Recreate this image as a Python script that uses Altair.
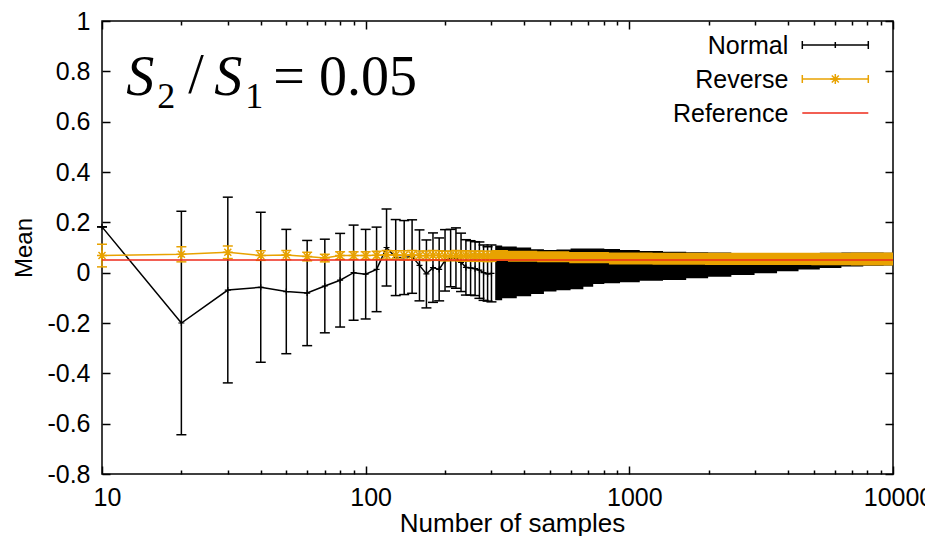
import altair as alt
import pandas as pd

# ---------------- data ----------------
# Normal: individually resolved error bars (every 10 samples)
normal_n = [10, 20, 30, 40, 50, 60, 70, 80, 90, 100, 110, 120, 130, 140, 150,
            160, 170, 180, 190, 200, 210, 220, 230, 240, 250, 260, 270, 280, 290, 300]
normal_mean = [0.182, -0.200, -0.069, -0.058, -0.075, -0.081, -0.053, -0.030, 0.000, -0.006,
               0.013, 0.100, 0.060, 0.060, 0.064, 0.029, -0.005, 0.020, 0.013, 0.049,
               0.058, 0.058, 0.041, 0.021, 0.019, 0.016, 0.010, 0.000, -0.005, -0.003]
normal_err = [0.000, 0.444, 0.369, 0.298, 0.247, 0.209, 0.186, 0.186, 0.189, 0.178,
              0.168, 0.153, 0.151, 0.147, 0.146, 0.141, 0.135, 0.138, 0.125, 0.122,
              0.114, 0.120, 0.116, 0.110, 0.108, 0.107, 0.112, 0.110, 0.108, 0.113]

# Normal: dense region (overlapping error bars form a band)
normal_band_n = [310, 350, 400, 450, 500, 560, 640, 700, 760, 850, 1000, 1200, 1500,
                 1800, 2200, 2700, 3300, 4000, 4800, 5800, 7000, 8500, 10000]
normal_band_lo = [-0.110, -0.102, -0.094, -0.085, -0.075, -0.070, -0.066, -0.056, -0.045,
                  -0.042, -0.038, -0.032, -0.029, -0.022, -0.016, -0.009, -0.002, 0.006,
                  0.013, 0.019, 0.025, 0.027, 0.028]
normal_band_hi = [0.108, 0.104, 0.100, 0.093, 0.090, 0.092, 0.096, 0.096, 0.096, 0.094,
                  0.090, 0.086, 0.083, 0.081, 0.080, 0.078, 0.077, 0.077, 0.078, 0.079,
                  0.080, 0.080, 0.079]

# Reverse: individually resolved error bars
reverse_n = normal_n
reverse_mean = [0.068, 0.073, 0.081, 0.068, 0.070, 0.064, 0.058, 0.068, 0.068, 0.068,
                0.069, 0.071, 0.070, 0.069, 0.070, 0.068, 0.067, 0.069, 0.068, 0.066,
                0.067, 0.068, 0.066, 0.067, 0.066, 0.065, 0.066, 0.065, 0.064, 0.065]
reverse_err = [0.045, 0.030, 0.025, 0.019, 0.018, 0.017, 0.015, 0.015, 0.015, 0.015,
               0.016, 0.017, 0.017, 0.018, 0.018, 0.018, 0.019, 0.019, 0.019, 0.019,
               0.019, 0.020, 0.020, 0.020, 0.020, 0.020, 0.020, 0.020, 0.020, 0.020]

# Reverse: dense region band
reverse_band_n = [300, 400, 500, 700, 1000, 1500, 2500, 4000, 6000, 8000, 10000]
reverse_band_lo = [0.046, 0.043, 0.041, 0.037, 0.032, 0.031, 0.030, 0.030, 0.029, 0.028, 0.028]
reverse_band_hi = [0.090, 0.087, 0.085, 0.082, 0.080, 0.079, 0.079, 0.079, 0.079, 0.080, 0.080]

reference_value = 0.05

x_major = [10, 100, 1000, 10000]
x_minor = [20, 30, 40, 50, 60, 70, 80, 90, 200, 300, 400, 500, 600, 700, 800, 900,
           2000, 3000, 4000, 5000, 6000, 7000, 8000, 9000]
y_ticks = [-0.8, -0.6, -0.4, -0.2, 0, 0.2, 0.4, 0.6, 0.8, 1]

legend_labels = ["Normal", "Reverse", "Reference"]

# ---------------- styling ----------------
W, H = 791, 453
BLACK = "#000000"
ORANGE = "#E8A200"
RED = "#EE2A1A"
FONT = "Liberation Sans"
SERIF = "Liberation Serif"
FS = 25

CAP = "M-1,0L1,0"
PLUS = "M-1,0L1,0M0,-1L0,1"
STAR = "M-1,0L1,0M0,-1L0,1M-0.7,-0.7L0.7,0.7M-0.7,0.7L0.7,-0.7"

normal_df = pd.DataFrame({
    "n": normal_n,
    "mean": normal_mean,
    "lo": [m - e for m, e in zip(normal_mean, normal_err)],
    "hi": [m + e for m, e in zip(normal_mean, normal_err)],
})
reverse_df = pd.DataFrame({
    "n": reverse_n,
    "mean": reverse_mean,
    "lo": [m - e for m, e in zip(reverse_mean, reverse_err)],
    "hi": [m + e for m, e in zip(reverse_mean, reverse_err)],
})
normal_band = pd.DataFrame({"n": normal_band_n, "lo": normal_band_lo, "hi": normal_band_hi})
reverse_band = pd.DataFrame({"n": reverse_band_n, "lo": reverse_band_lo, "hi": reverse_band_hi})

XS = alt.Scale(type="log", domain=[10, 10000], nice=False)
YS = alt.Scale(domain=[-0.8, 1.0], nice=False, zero=False)


def X(field="n", axis=None):
    return alt.X(f"{field}:Q", scale=XS, axis=axis)


def Y(field, axis=None):
    return alt.Y(f"{field}:Q", scale=YS, axis=axis)


def errorbars(df, color):
    rules = alt.Chart(df).mark_rule(color=color, strokeWidth=1.5).encode(
        x=X(), y=Y("lo"), y2=alt.Y2("hi:Q"))
    caps = alt.Chart(df).transform_fold(["lo", "hi"], as_=["k", "v"]).mark_point(
        shape=CAP, filled=False, stroke=color, strokeWidth=1.5, size=100, opacity=1
    ).encode(x=X(), y=Y("v"))
    return rules, caps


n_rules, n_caps = errorbars(normal_df, BLACK)
r_rules, r_caps = errorbars(reverse_df, ORANGE)

n_band = alt.Chart(normal_band).mark_area(color=BLACK, interpolate="step", opacity=1).encode(
    x=X(), y=Y("lo"), y2=alt.Y2("hi:Q"))
r_band = alt.Chart(reverse_band).mark_area(color=ORANGE, interpolate="step", opacity=1).encode(
    x=X(), y=Y("lo"), y2=alt.Y2("hi:Q"))

n_line = alt.Chart(normal_df).mark_line(color=BLACK, strokeWidth=1.5).encode(x=X(), y=Y("mean"))
n_pts = alt.Chart(normal_df).mark_point(shape=PLUS, filled=False, stroke=BLACK, strokeWidth=1.2,
                                        size=36, opacity=1).encode(x=X(), y=Y("mean"))
r_line = alt.Chart(reverse_df).mark_line(color=ORANGE, strokeWidth=1.5).encode(x=X(), y=Y("mean"))
r_pts = alt.Chart(reverse_df).mark_point(shape=STAR, filled=False, stroke=ORANGE, strokeWidth=1.5,
                                         size=100, opacity=1).encode(x=X(), y=Y("mean"))

ref_line = alt.Chart(pd.DataFrame({"v": [reference_value]})).mark_rule(
    color=RED, strokeWidth=1.5).encode(y=Y("v"))

# ---------------- axes (ticks drawn inward, gnuplot style) ----------------
LBL = "'' + datum.value"
common = dict(grid=False, domain=False, tickColor=BLACK, tickWidth=1.5,
              labelFont=FONT, labelFontSize=FS, labelColor=BLACK, labelFlush=False,
              titleFont=FONT, titleColor=BLACK, titleFontWeight="normal")

ax_main = alt.Chart(normal_df).mark_point(opacity=0).encode(
    x=X(axis=alt.Axis(orient="bottom", values=x_major, tickSize=8, offset=-8, labelPadding=11,
                      labelOffset=5, labelExpr=LBL, title="Number of samples", titleFontSize=26,
                      titleX=410, titleY=44, titleBaseline="top", **common)),
    y=Y("mean", axis=alt.Axis(orient="left", values=y_ticks, tickSize=8, offset=-8, labelPadding=12,
                              labelExpr=LBL, title="Mean", titleFontSize=24, titlePadding=10,
                              **common)),
)
ax_b = alt.Chart(normal_df).mark_point(opacity=0).encode(
    x=X(axis=alt.Axis(orient="bottom", values=x_minor, tickSize=4, offset=-4, labels=False,
                      title=None, **common)),
    y=Y("mean", axis=alt.Axis(orient="right", values=y_ticks, tickSize=8, offset=-8, labels=False,
                              title=None, **common)),
)
ax_c = alt.Chart(normal_df).mark_point(opacity=0).encode(
    x=X(axis=alt.Axis(orient="top", values=x_major, tickSize=8, offset=-8, labels=False,
                      title=None, **common)),
    y=Y("mean"),
)
ax_d = alt.Chart(normal_df).mark_point(opacity=0).encode(
    x=X(axis=alt.Axis(orient="top", values=x_minor, tickSize=4, offset=-4, labels=False,
                      title=None, **common)),
    y=Y("mean"),
)

# ---------------- annotation  S2 / S1 = 0.05 ----------------
one = pd.DataFrame({"a": [0]})
OX, OY = 101.7, 21.0  # plot-area origin on the page


def txt(t, px, py, size, italic=False, font=SERIF, align="left", baseline="alphabetic", color=BLACK):
    kw = dict(text=t, font=font, fontSize=size, align=align, baseline=baseline, color=color)
    if italic:
        kw["fontStyle"] = "italic"
    return alt.Chart(one).mark_text(**kw).encode(x=alt.value(px - OX), y=alt.value(py - OY))


ann = [
    txt("S", 126, 95, 56, italic=True),
    txt("2", 157, 108, 36),
    txt("/", 188, 93, 56),
    txt("S", 214, 95, 56, italic=True),
    txt("1", 245, 108, 36),
    txt("= 0.05", 273, 95, 56),
]

# ---------------- legend (labels left of samples, as in gnuplot) ----------------
LX0, LX1, LXM = 802 - OX, 868 - OX, 835 - OX
ly = [45 - OY, 79 - OY, 113 - OY]
leg = []
for lab, yy in zip(legend_labels, ly):
    leg.append(alt.Chart(one).mark_text(text=lab, font=FONT, fontSize=FS, align="right",
                                        baseline="middle", color=BLACK).encode(
        x=alt.value(788 - OX), y=alt.value(yy + 1)))


def hrule(y, color):
    return alt.Chart(one).mark_rule(color=color, strokeWidth=1.5).encode(
        x=alt.value(LX0), x2=alt.value(LX1), y=alt.value(y))


def vtick(x, y, color, h=4):
    return alt.Chart(one).mark_rule(color=color, strokeWidth=1.5).encode(
        x=alt.value(x), y=alt.value(y - h), y2=alt.value(y + h))


leg += [hrule(ly[0], BLACK), vtick(LX0, ly[0], BLACK), vtick(LX1, ly[0], BLACK), vtick(LXM, ly[0], BLACK, 3),
        hrule(ly[1], ORANGE), vtick(LX0, ly[1], ORANGE), vtick(LX1, ly[1], ORANGE),
        alt.Chart(one).mark_point(shape=STAR, filled=False, stroke=ORANGE, strokeWidth=1.5, size=100,
                                  opacity=1).encode(x=alt.value(LXM), y=alt.value(ly[1])),
        hrule(ly[2], RED)]

chart = alt.layer(
    ax_main, ax_b, ax_c, ax_d,
    n_rules, n_caps, n_band, n_line, n_pts,
    r_band, r_rules, r_caps, r_line, r_pts,
    ref_line,
    *ann, *leg,
).resolve_axis(x="independent", y="independent").properties(
    width=W, height=H,
    autosize=alt.AutoSizeParams(type="none"),
    padding={"left": 94, "top": 13, "right": 32, "bottom": 62},
    background="white",
).configure_view(stroke=BLACK, strokeWidth=1.5)

chart.save("out.html", embed_options={"renderer": "svg", "actions": False})
